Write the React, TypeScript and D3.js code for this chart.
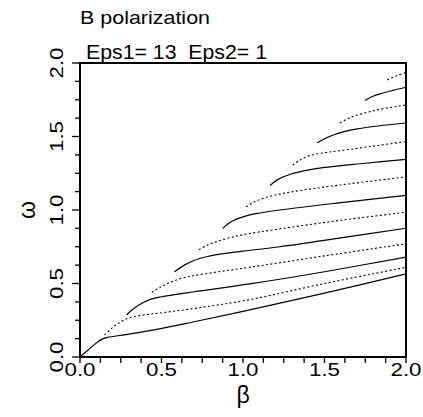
import React from "react";
import * as d3 from "d3";

const W = 423;
const H = 417;
const margin = { left: 80, right: 17, top: 63, bottom: 60 };

const title = "B polarization";
const subtitle = "Eps1= 13  Eps2= 1";
const xLabel = "β";
const yLabel = "ω";
const xTickLabels = ["0.0", "0.5", "1.0", "1.5", "2.0"];
const yTickLabels = ["0.0", "0.5", "1.0", "1.5", "2.0"];
const majorTicks = [0, 0.5, 1.0, 1.5, 2.0];
const minorStep = 0.125;

type Pt = [number, number];

const band1: Pt[] = [[0, 0], [0.05, 0.048], [0.1, 0.095], [0.13, 0.118], [0.17, 0.133], [0.28, 0.152], [0.48, 0.19], [0.7, 0.24], [1.0, 0.31], [1.5, 0.435], [2.0, 0.565]];
const band2: Pt[] = [[0.15, 0.15], [0.2, 0.2], [0.235, 0.229], [0.28, 0.257], [0.33, 0.274], [0.4, 0.287], [0.48, 0.298], [0.7, 0.33], [1.04, 0.39], [1.5, 0.5], [2.0, 0.61]];
const band3: Pt[] = [[0.286, 0.286], [0.33, 0.33], [0.38, 0.365], [0.43, 0.392], [0.5, 0.41], [0.6, 0.428], [0.7, 0.444], [1.04, 0.497], [1.5, 0.58], [2.0, 0.68]];
const band4: Pt[] = [[0.44, 0.44], [0.5, 0.48], [0.56, 0.51], [0.63, 0.538], [0.705, 0.555], [0.85, 0.58], [1.04, 0.61], [1.5, 0.688], [2.0, 0.77]];
const band5: Pt[] = [[0.58, 0.58], [0.64, 0.625], [0.695, 0.655], [0.77, 0.68], [0.84, 0.697], [1.0, 0.72], [1.227, 0.75], [1.6, 0.81], [2.0, 0.876]];
const band6: Pt[] = [[0.73, 0.73], [0.78, 0.76], [0.84, 0.785], [0.92, 0.812], [1.0, 0.832], [1.227, 0.872], [1.6, 0.93], [2.0, 0.985]];
const band7: Pt[] = [[0.875, 0.875], [0.92, 0.915], [0.96, 0.938], [1.02, 0.96], [1.08, 0.975], [1.227, 1.0], [1.6, 1.05], [2.0, 1.1]];
const band8: Pt[] = [[1.02, 1.02], [1.06, 1.05], [1.1, 1.07], [1.18, 1.097], [1.29, 1.122], [1.595, 1.17], [2.0, 1.225]];
const band9: Pt[] = [[1.166, 1.166], [1.21, 1.205], [1.29, 1.243], [1.38, 1.268], [1.49, 1.288], [1.75, 1.318], [2.0, 1.345]];
const band10: Pt[] = [[1.305, 1.305], [1.35, 1.34], [1.41, 1.37], [1.5, 1.39], [1.595, 1.403], [1.8, 1.435], [2.0, 1.465]];
const band11: Pt[] = [[1.455, 1.455], [1.5, 1.485], [1.554, 1.51], [1.62, 1.533], [1.7, 1.552], [1.85, 1.575], [2.0, 1.592]];
const band12: Pt[] = [[1.595, 1.592], [1.65, 1.625], [1.7, 1.646], [1.77, 1.667], [1.84, 1.685], [2.0, 1.715]];
const band13: Pt[] = [[1.75, 1.745], [1.79, 1.77], [1.84, 1.79], [1.92, 1.814], [2.0, 1.835]];
const band14: Pt[] = [[1.885, 1.885], [1.94, 1.912], [2.0, 1.935]];

const solidBands = [band1, band3, band5, band7, band9, band11, band13];
const dottedBands = [band2, band4, band6, band8, band10, band12, band14];

const FONT = "'Liberation Sans', Arial, Helvetica, sans-serif";

export default function App() {
  const x = d3.scaleLinear().domain([0, 2]).range([margin.left, W - margin.right]);
  const y = d3.scaleLinear().domain([0, 2]).range([H - margin.bottom, margin.top]);
  const line = d3
    .line<Pt>()
    .x((d) => x(d[0]))
    .y((d) => y(d[1]))
    .curve(d3.curveCatmullRom.alpha(0.5));

  const minorTicks = d3.range(0, 2 + 1e-9, minorStep);
  const x0 = x(0);
  const x1 = x(2);
  const y0 = y(0);
  const y1 = y(2);

  return (
    <svg
      width={W}
      height={H}
      style={{ position: "absolute", left: 0, top: 0, background: "#fff" }}
      fontFamily={FONT}
    >
      <rect x={0} y={0} width={W} height={H} fill="#fff" />
      <text x={80} y={24} fontSize={19} textLength={130} lengthAdjust="spacingAndGlyphs">
        {title}
      </text>
      <text
        x={86}
        y={58.5}
        fontSize={19.5}
        textLength={181}
        lengthAdjust="spacingAndGlyphs"
        style={{ whiteSpace: "pre" }}
      >
        {subtitle}
      </text>

      {/* curves */}
      <g fill="none" stroke="#000">
        {solidBands.map((b, i) => (
          <path key={"s" + i} d={line(b) || ""} strokeWidth={1.2} />
        ))}
        {dottedBands.map((b, i) => (
          <path key={"d" + i} d={line(b) || ""} strokeWidth={1.1} strokeDasharray="2 2.4" />
        ))}
      </g>

      {/* ticks */}
      <g stroke="#000" strokeWidth={1.3}>
        {minorTicks.map((t, i) => (
          <line key={"xt" + i} x1={x(t)} x2={x(t)} y1={y0} y2={y0 + 6} />
        ))}
        {minorTicks.map((t, i) => {
          const major = majorTicks.some((m) => Math.abs(m - t) < 1e-9);
          return <line key={"yt" + i} x1={x0} x2={x0 - (major ? 8 : 5)} y1={y(t)} y2={y(t)} />;
        })}
      </g>

      {/* frame */}
      <rect x={x0} y={y1} width={x1 - x0} height={y0 - y1} fill="none" stroke="#000" strokeWidth={2} />

      {/* x tick labels */}
      {majorTicks.map((t, i) => (
        <text
          key={"xl" + i}
          x={x(t)}
          y={376}
          fontSize={18.5}
          textAnchor="middle"
          textLength={31}
          lengthAdjust="spacingAndGlyphs"
        >
          {xTickLabels[i]}
        </text>
      ))}
      {/* y tick labels */}
      {majorTicks.map((t, i) => (
        <text
          key={"yl" + i}
          transform={`translate(62.5,${y(t)}) rotate(-90)`}
          fontSize={18.5}
          textAnchor="middle"
          textLength={31}
          lengthAdjust="spacingAndGlyphs"
        >
          {yTickLabels[i]}
        </text>
      ))}

      <text x={(x0 + x1) / 2} y={403} fontSize={23} textAnchor="middle">
        {xLabel}
      </text>
      <text transform={`translate(35,${(y0 + y1) / 2}) rotate(-90)`} fontSize={23} textAnchor="middle">
        {yLabel}
      </text>
    </svg>
  );
}
